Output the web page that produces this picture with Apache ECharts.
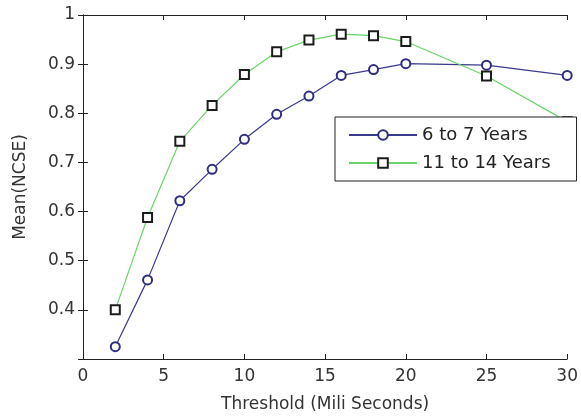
<!DOCTYPE html>
<html>
<head>
<meta charset="utf-8">
<script src="https://cdn.jsdelivr.net/npm/echarts@6/dist/echarts.min.js"></script>
<style>html,body{margin:0;padding:0;background:#fff;}#c{width:581px;height:418px;}</style>
</head>
<body>
<div id="c"></div>
<script>
var thresholds = [2, 4, 6, 8, 10, 12, 14, 16, 18, 20, 25, 30];
var young = [0.325, 0.461, 0.622, 0.686, 0.747, 0.798, 0.835, 0.877, 0.889, 0.901, 0.898, 0.877];
var older = [0.400, 0.588, 0.743, 0.816, 0.879, 0.925, 0.949, 0.961, 0.958, 0.946, 0.876, 0.783];
var seriesNames = ['6 to 7 Years', '11 to 14 Years'];
var xName = 'Threshold (Mili Seconds)';
var yName = 'Mean(NCSE)';

function pairs(xs, ys) { return xs.map(function (x, i) { return [x, ys[i]]; }); }

var font = 'DejaVu Sans, sans-serif';
var textColor = '#333';
var chart = echarts.init(document.getElementById('c'), null, { renderer: 'canvas' });
chart.setOption({
  animation: false,
  backgroundColor: '#fff',
  grid: { left: 83, right: 13, top: 15, bottom: 54, containLabel: false },
  legend: {
    orient: 'vertical', left: 335, top: 117,
    padding: [9, 26, 9, 13], itemGap: 10,
    itemWidth: 68, itemHeight: 12,
    backgroundColor: '#fff', borderColor: '#222', borderWidth: 1,
    textStyle: { fontFamily: font, fontSize: 18, color: '#222' },
    data: seriesNames
  },
  xAxis: [{
    type: 'value', min: 0, max: 30, interval: 5, position: 'bottom',
    name: xName, nameLocation: 'middle', nameGap: 37,
    nameTextStyle: { fontFamily: font, fontSize: 17, color: textColor },
    axisLine: { show: true, lineStyle: { color: '#222', width: 1 } },
    axisTick: { show: true, inside: true, length: 5, lineStyle: { color: '#222' } },
    axisLabel: { fontFamily: font, fontSize: 17, color: textColor, margin: 9 },
    splitLine: { show: false }
  }, {
    type: 'value', min: 0, max: 30, interval: 5, position: 'top',
    axisLine: { show: true, lineStyle: { color: '#222', width: 1 } },
    axisTick: { show: true, inside: true, length: 5, lineStyle: { color: '#222' } },
    axisLabel: { show: false }, splitLine: { show: false }
  }],
  yAxis: [{
    type: 'value', min: 0.3, max: 1, interval: 0.1, position: 'left',
    name: yName, nameLocation: 'middle', nameGap: 54, nameRotate: 90,
    nameTextStyle: { fontFamily: font, fontSize: 17, color: textColor },
    axisLine: { show: true, lineStyle: { color: '#222', width: 1 } },
    axisTick: { show: true, inside: true, length: 5, lineStyle: { color: '#222' } },
    axisLabel: {
      fontFamily: font, fontSize: 17, color: textColor, margin: 8,
      showMinLabel: false,
      formatter: function (v) { return v >= 0.999 ? '1' : (+v).toFixed(1); }
    },
    splitLine: { show: false }
  }, {
    type: 'value', min: 0.3, max: 1, interval: 0.1, position: 'right',
    axisLine: { show: true, lineStyle: { color: '#222', width: 1 } },
    axisTick: { show: true, inside: true, length: 5, lineStyle: { color: '#222' } },
    axisLabel: { show: false }, splitLine: { show: false }
  }],
  series: [{
    name: seriesNames[0], type: 'line', xAxisIndex: 0, yAxisIndex: 0,
    data: pairs(thresholds, young),
    symbol: 'emptyCircle', symbolSize: 9,
    lineStyle: { color: '#3a3a8e', width: 1.2 },
    itemStyle: { color: '#2e2e80', borderColor: '#2e2e80', borderWidth: 1.2 }
  }, {
    name: seriesNames[1], type: 'line', xAxisIndex: 0, yAxisIndex: 0,
    data: pairs(thresholds, older),
    symbol: 'emptyRect', symbolSize: 9,
    lineStyle: { color: '#6ad46a', width: 1.2 },
    itemStyle: { color: '#1c1c1c', borderColor: '#1c1c1c', borderWidth: 1.2 }
  }]
});
</script>
</body>
</html>
